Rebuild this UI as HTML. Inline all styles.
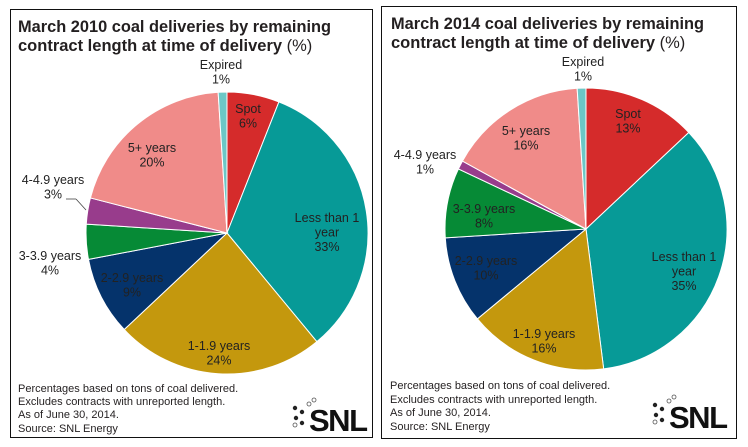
<!DOCTYPE html>
<html><head><meta charset="utf-8">
<style>
html,body{margin:0;padding:0;background:#fff;}
body{width:748px;height:447px;overflow:hidden;font-family:"Liberation Sans",sans-serif;}
svg{position:absolute;left:0;top:0;}
</style></head>
<body>
<svg id="chart" width="748" height="447" viewBox="0 0 748 447" xmlns="http://www.w3.org/2000/svg">
  <rect x="10.5" y="9.5" width="362" height="428" fill="#fff" stroke="#111" stroke-width="1"/>
  <rect x="381.5" y="6.5" width="355" height="432" fill="#fff" stroke="#111" stroke-width="1"/>
  <g font-weight="bold" font-size="16.5" fill="#231f20">
    <text x="18" y="32" textLength="313" lengthAdjust="spacingAndGlyphs">March 2010 coal deliveries by remaining</text>
    <text x="18" y="51">contract length at time of delivery <tspan font-weight="normal">(%)</tspan></text>
  </g>
  <g font-weight="bold" font-size="16.5" fill="#231f20">
    <text x="391" y="29" textLength="313" lengthAdjust="spacingAndGlyphs">March 2014 coal deliveries by remaining</text>
    <text x="391" y="48">contract length at time of delivery <tspan font-weight="normal">(%)</tspan></text>
  </g>
  <g font-size="11" fill="#231f20">
    <text x="18" y="392">Percentages based on tons of coal delivered.</text>
    <text x="18" y="405">Excludes contracts with unreported length.</text>
    <text x="18" y="418">As of June 30, 2014.</text>
    <text x="18" y="432">Source: SNL Energy</text>
  </g>
  <g font-size="11" fill="#231f20">
    <text x="390" y="389">Percentages based on tons of coal delivered.</text>
    <text x="390" y="403">Excludes contracts with unreported length.</text>
    <text x="390" y="416">As of June 30, 2014.</text>
    <text x="390" y="430">Source: SNL Energy</text>
  </g>
  <g>
    <circle cx="295" cy="408" r="2.2" fill="#222"/><circle cx="302" cy="412" r="2.2" fill="#222"/><circle cx="296" cy="418" r="2.2" fill="#222"/><circle cx="302" cy="423" r="2.2" fill="#222"/>
    <circle cx="309" cy="404" r="2" fill="none" stroke="#555" stroke-width="0.8"/><circle cx="314" cy="400" r="2" fill="none" stroke="#555" stroke-width="0.8"/><circle cx="295" cy="425" r="2" fill="none" stroke="#555" stroke-width="0.8"/>
    <text x="309" y="431" font-size="31" font-weight="bold" fill="#111" letter-spacing="-1.5">SNL</text>
  </g>
  <g>
    <circle cx="655" cy="405" r="2.2" fill="#222"/><circle cx="662" cy="409" r="2.2" fill="#222"/><circle cx="656" cy="415" r="2.2" fill="#222"/><circle cx="662" cy="420" r="2.2" fill="#222"/>
    <circle cx="669" cy="401" r="2" fill="none" stroke="#555" stroke-width="0.8"/><circle cx="674" cy="397" r="2" fill="none" stroke="#555" stroke-width="0.8"/><circle cx="655" cy="422" r="2" fill="none" stroke="#555" stroke-width="0.8"/>
    <text x="669" y="428" font-size="31" font-weight="bold" fill="#111" letter-spacing="-1.5">SNL</text>
  </g>
  <line x1="66" y1="199" x2="76" y2="199" stroke="#444" stroke-width="0.8"/>
  <line x1="76" y1="199" x2="86" y2="210" stroke="#444" stroke-width="0.8"/>
</svg>
<script>
const categories = ["Spot", "Less than 1 year", "1-1.9 years", "2-2.9 years", "3-3.9 years", "4-4.9 years", "5+ years", "Expired"];
const values2010 = [6, 33, 24, 9, 4, 3, 20, 1];
const values2014 = [13, 35, 16, 10, 8, 1, 16, 1];
const labelLines2010 = [["Spot"], ["Less than 1", "year"], ["1-1.9 years"], ["2-2.9 years"], ["3-3.9 years"], ["4-4.9 years"], ["5+ years"], ["Expired"]];
const labelLines2014 = [["Spot"], ["Less than 1", "year"], ["1-1.9 years"], ["2-2.9 years"], ["3-3.9 years"], ["4-4.9 years"], ["5+ years"], ["Expired"]];

const colors = ["#d52b2b", "#079a97", "#c4980d", "#05336b", "#068a36", "#983c8c", "#f08b89", "#6cc7c6"];
const NS = "http://www.w3.org/2000/svg";
const svg = document.getElementById("chart");

function drawPie(prefix, cx, cy, r, vals, lines, labelXY) {
  const total = vals.reduce((a, b) => a + b, 0);
  let a0 = 0;
  const g = document.createElementNS(NS, "g");
  
  
  svg.appendChild(g);
  vals.forEach((v, i) => {
    const a1 = a0 + v / total * Math.PI * 2;
    const x0 = cx + r * Math.sin(a0), y0 = cy - r * Math.cos(a0);
    const x1 = cx + r * Math.sin(a1), y1 = cy - r * Math.cos(a1);
    const large = (a1 - a0) > Math.PI ? 1 : 0;
    const p = document.createElementNS(NS, "path");
    p.setAttribute("d", `M${cx},${cy} L${x0},${y0} A${r},${r} 0 ${large} 1 ${x1},${y1} Z`);
    p.setAttribute("fill", colors[i]);
    p.setAttribute("stroke", "#fff");
    p.setAttribute("stroke-width", "1");
    
    
    g.appendChild(p);
    a0 = a1;
  });
  vals.forEach((v, i) => {
    const t = document.createElementNS(NS, "text");
    t.setAttribute("text-anchor", "middle");
    t.setAttribute("font-size", "12.5");
    t.setAttribute("fill", "#222");
    
    
    const [lx, ly] = labelXY[i];
    const all = lines[i].concat([v + "%"]);
    all.forEach((s, k) => {
      const ts = document.createElementNS(NS, "tspan");
      ts.setAttribute("x", lx);
      ts.setAttribute("y", ly + k * 14.5);
      ts.textContent = s;
      t.appendChild(ts);
    });
    svg.appendChild(t);
  });
}

drawPie("pie-2010", 227, 233, 141, values2010, labelLines2010,
  [[248,113],[327,222],[219,350],[132,282],[50,260],[53,184],[152,152],[221,69]]);
drawPie("pie-2014", 586, 229, 141, values2014, labelLines2014,
  [[628,118],[684,261],[544,338],[486,265],[484,213],[425,159],[526,135],[583,66]]);
</script>
</body></html>
